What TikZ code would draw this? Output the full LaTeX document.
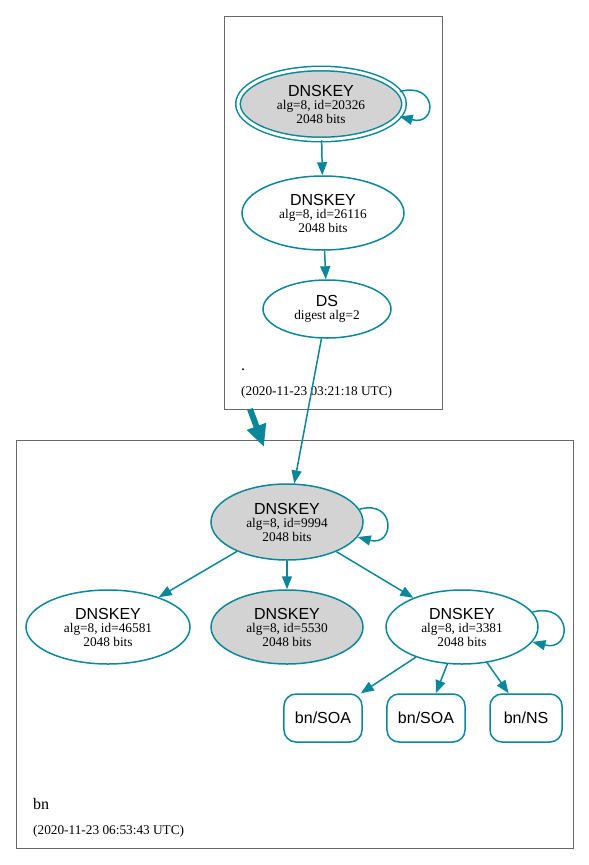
\documentclass[tikz,border=0pt]{standalone}
\usepackage{fontspec}
\setmainfont{Liberation Serif}
\setsansfont{Liberation Sans}
\usetikzlibrary{shapes.geometric,arrows.meta}
\definecolor{dnsteal}{RGB}{10,135,154}
\definecolor{keygray}{RGB}{211,211,211}
\definecolor{zonegray}{RGB}{105,105,105}
\tikzset{
 dnskey/.style={ellipse,draw=dnsteal,line width=1.5pt,inner sep=0pt,align=center,font=\fontsize{13.3}{13.5}\selectfont},
 sepkey/.style={dnskey,fill=keygray},
 rrset/.style={rectangle,rounded corners=12pt,draw=dnsteal,line width=1.5pt,minimum height=48pt,minimum width=72pt,inner xsep=11pt,font=\sffamily\fontsize{16}{16}\selectfont},
 sig/.style={draw=dnsteal,line width=1.5pt,-{Triangle[length=13pt,width=10pt]}},
 delegation/.style={draw=dnsteal,line width=6pt,-{Triangle[length=22pt,width=19pt]}},
 zonebox/.style={draw=zonegray,line width=0.8pt},
 zonetext/.style={anchor=base west,inner sep=0pt}
}
\newcommand{\keyname}[1]{{\sffamily\fontsize{16}{16}\selectfont #1}}
\begin{document}
\begin{tikzpicture}[x=1pt,y=-1pt]
\useasboundingbox (0,0) rectangle (589,865);
\draw[zonebox] (224,16) rectangle (442,409);
\draw[zonebox] (16,440) rectangle (573,848);
\node[zonetext,font=\fontsize{16}{16}\selectfont] (rootname) at (241,370) {.};
\node[zonetext,font=\fontsize{13.3}{13.5}\selectfont] (roottime) at (241,395) {(2020-11-23 03:21:18 UTC)};
\node[zonetext,font=\fontsize{16}{16}\selectfont] (bnname) at (33,809) {bn};
\node[zonetext,font=\fontsize{13.3}{13.5}\selectfont] (bntime) at (33,834) {(2020-11-23 06:53:43 UTC)};
\node[sepkey,double=white,double distance=3pt,minimum width=166pt,minimum height=71pt] (ksk) at (321,104) {\keyname{DNSKEY}\\alg=8, id=20326\\2048 bits};
\node[dnskey,minimum width=162pt,minimum height=74pt] (zsk) at (323,213) {\keyname{DNSKEY}\\alg=8, id=26116\\2048 bits};
\node[dnskey,minimum width=128pt,minimum height=58pt] (ds) at (327,309) {\keyname{DS}\\digest alg=2};
\node[sepkey,minimum width=152pt,minimum height=76pt] (k9994) at (287,522) {\keyname{DNSKEY}\\alg=8, id=9994\\2048 bits};
\node[dnskey,minimum width=164pt,minimum height=74pt] (k46581) at (108,627) {\keyname{DNSKEY}\\alg=8, id=46581\\2048 bits};
\node[sepkey,minimum width=152pt,minimum height=74pt] (k5530) at (287,627) {\keyname{DNSKEY}\\alg=8, id=5530\\2048 bits};
\node[dnskey,minimum width=152pt,minimum height=74pt] (k3381) at (462,627) {\keyname{DNSKEY}\\alg=8, id=3381\\2048 bits};
\node[rrset] (soa1) at (323,718) {bn/SOA};
\node[rrset] (soa2) at (426,718) {bn/SOA};
\node[rrset] (ns) at (526,718) {bn/NS};
\coordinate (rootout) at (250,409);
\coordinate (bnin) at (264,447);
\draw[delegation] (rootout) -- (bnin);
\draw[sig] (ksk.9) .. controls +(38,-10) and +(38,10) .. (ksk.-9);
\draw[sig] (ksk) -- (zsk);
\draw[sig] (zsk) -- (ds);
\draw[sig] (ds) -- (k9994);
\draw[sig] (k9994.10) .. controls +(37,-10) and +(37,10) .. (k9994.-12);
\draw[sig] (k9994) -- (k46581);
\draw[sig] (k9994) -- (k5530);
\draw[sig] (k9994) -- (k3381);
\draw[sig] (k3381.12) .. controls +(40,-10) and +(40,10) .. (k3381.-12);
\draw[sig] (k3381) -- (soa1);
\draw[sig] (k3381) -- (soa2);
\draw[sig] (k3381) -- (ns);
\end{tikzpicture}
\end{document}
